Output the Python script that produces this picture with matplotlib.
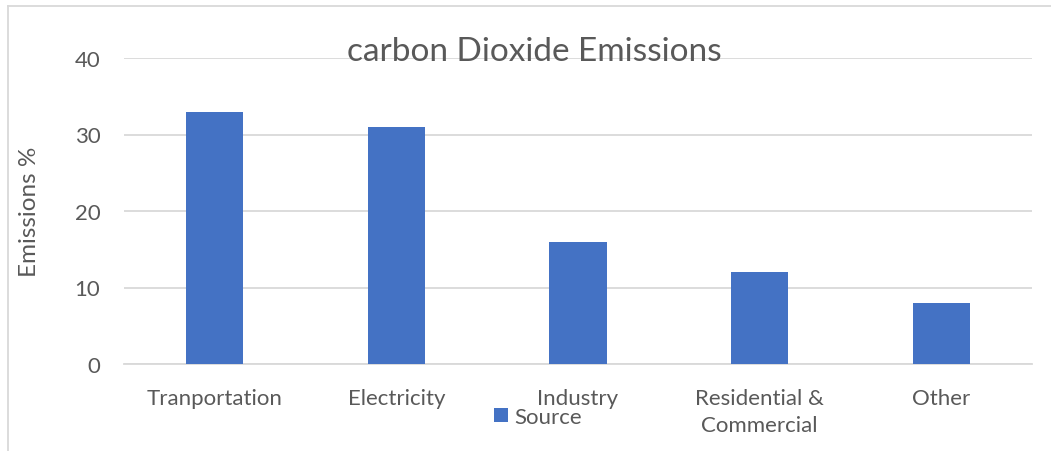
import matplotlib.pyplot as plt
import numpy as np

categories = ['Tranportation', 'Electricity', 'Industry', 'Residential &\nCommercial', 'Other']
values = [33, 31, 16, 12, 8]
series_name = 'Source'

plt.rcParams['font.family'] = ['Lato', 'DejaVu Sans']
txt = '#595959'
grid = '#D9D9D9'
bar_color = '#4472C4'

fig = plt.figure(figsize=(10.51, 4.52), dpi=100)
W, H = 1051, 452
ax = fig.add_axes([124 / W, 1 - 365 / H, (1032 - 124) / W, (365 - 59) / H])

x_pos = np.arange(len(categories))
ax.bar(x_pos, values, width=0.314, color=bar_color, label=series_name, zorder=3)

ax.set_xlim(-0.5, len(categories) - 0.5)
ax.set_ylim(0, 40)
ax.set_yticks([0, 10, 20, 30, 40])
ax.set_xticks(x_pos)
ax.set_xticklabels(categories, linespacing=1.45)
ax.tick_params(axis='both', length=0, labelsize=16, colors=txt)
ax.tick_params(axis='x', pad=17)
ax.tick_params(axis='y', pad=17)
ax.yaxis.grid(True, color=grid, linewidth=1.3, zorder=0)
for s in ['top', 'right', 'left']:
    ax.spines[s].set_visible(False)
ax.spines['bottom'].set_color(grid)
ax.spines['bottom'].set_linewidth(1.3)

fig.text(30 / W, 1 - 212 / H, 'Emissions %', rotation=90, ha='center', va='center',
         fontsize=17.5, color=txt)

fig.text(534 / W, 1 - 52 / H, 'carbon Dioxide Emissions', ha='center', va='center',
         fontsize=24, color=txt)

ax.legend(loc='center', bbox_to_anchor=(538 / W, 1 - 418 / H), bbox_transform=fig.transFigure,
          frameon=False, fontsize=16, labelcolor=txt, handlelength=0.6, handleheight=0.6,
          handletextpad=0.3, borderpad=0)

# chart border
fig.add_artist(plt.Line2D([8 / W, 8 / W], [0, 1 - 7 / H], color=grid, linewidth=1.3))
fig.add_artist(plt.Line2D([8 / W, 1], [1 - 7 / H, 1 - 7 / H], color=grid, linewidth=1.3))

plt.savefig('out.png', dpi=100)
